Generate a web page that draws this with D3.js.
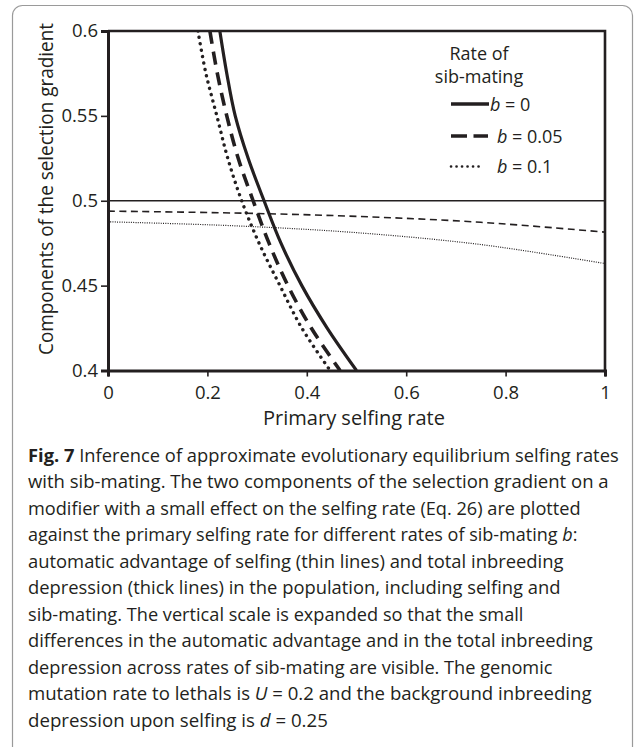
<!doctype html>
<html lang="en">
<head>
<meta charset="utf-8">
<script src="https://d3js.org/d3.v7.min.js"></script>
<style>
  body { margin: 0; background: #fff; }
  text { font-family: "Open Sans", sans-serif; fill: #231f20; }
</style>
</head>
<body>
<svg width="636" height="747"></svg>
<script>
// ticks
var xTicks = [0, 0.2, 0.4, 0.6, 0.8, 1];
var yTicks = [0.4, 0.45, 0.5, 0.55, 0.6];
var sibRates = ["0", "0.05", "0.1"];

// thick lines: total inbreeding depression, selfing rate read at these levels
var depressionLevels = [0.6, 0.575, 0.55, 0.525, 0.5, 0.475, 0.45, 0.425, 0.4];
var depressionB0   = [0.225, 0.239, 0.256, 0.282, 0.314, 0.348, 0.390, 0.441, 0.500];
var depressionB005 = [0.205, 0.220, 0.239, 0.262, 0.292, 0.324, 0.362, 0.409, 0.467];
var depressionB01  = [0.181, 0.197, 0.219, 0.241, 0.269, 0.304, 0.346, 0.390, 0.447];

// thin lines: automatic advantage of selfing
var advantageRates = [0, 0.25, 0.5, 0.75, 1];
var advantageB0   = [0.5, 0.5, 0.5, 0.5, 0.5];
var advantageB005 = [0.4939, 0.4928, 0.4908, 0.4873, 0.4815];
var advantageB01  = [0.4876, 0.4853, 0.4812, 0.4742, 0.4630];

var caption = [
  [["b", "Fig. 7"], ["", " Inference of approximate evolutionary equilibrium selfing rates"]],
  [["", "with sib-mating. The two components of the selection gradient on a"]],
  [["", "modifier with a small effect on the selfing rate (Eq. 26) are plotted"]],
  [["", "against the primary selfing rate for different rates of sib-mating "], ["i", "b"], ["", ":"]],
  [["", "automatic advantage of selfing (thin lines) and total inbreeding"]],
  [["", "depression (thick lines) in the population, including selfing and"]],
  [["", "sib-mating. The vertical scale is expanded so that the small"]],
  [["", "differences in the automatic advantage and in the total inbreeding"]],
  [["", "depression across rates of sib-mating are visible. The genomic"]],
  [["", "mutation rate to lethals is "], ["i", "U"], ["", " = 0.2 and the background inbreeding"]],
  [["", "depression upon selfing is "], ["i", "d"], ["", " = 0.25"]]
];
var captionWidths = [591, 581, 553, 550, 536, 533, 496, 565, 525, 564, 300];

var ink = "#231f20";
var svg = d3.select("svg");

// figure frame
svg.append("rect")
  .attr("x", 12.5).attr("y", 5.5)
  .attr("width", 620).attr("height", 760)
  .attr("rx", 10)
  .attr("fill", "none")
  .attr("stroke", "#9a9a9a")
  .attr("stroke-width", 1.2);

var x = d3.scaleLinear().domain([0, 1]).range([108, 605]);
var y = d3.scaleLinear().domain([0.4, 0.6]).range([370.5, 31]);

svg.append("clipPath").attr("id", "plotclip")
  .append("rect")
  .attr("x", x(0)).attr("y", y(0.6))
  .attr("width", x(1) - x(0)).attr("height", y(0.4) - y(0.6));

var plot = svg.append("g").attr("clip-path", "url(#plotclip)");

var line = d3.line()
  .x(function(d) { return x(d[0]); })
  .y(function(d) { return y(d[1]); })
  .curve(d3.curveCatmullRom);

var styles = [
  { dash: null, thick: 3.2, thin: 1.6, thinDash: null, cap: "butt" },
  { dash: "13,8", thick: 3.6, thin: 1.6, thinDash: "7,4.5", cap: "butt" },
  { dash: "0.1,6.4", thick: 3.4, thin: 1.2, thinDash: "1,1.3", cap: "round" }
];

var advantage = [advantageB0, advantageB005, advantageB01];
var depression = [depressionB0, depressionB005, depressionB01];

advantage.forEach(function(vals, i) {
  plot.append("path")
    .datum(advantageRates.map(function(r, j) { return [r, vals[j]]; }))
    .attr("d", line)
    .attr("fill", "none")
    .attr("stroke", ink)
    .attr("stroke-width", styles[i].thin)
    .attr("stroke-dasharray", styles[i].thinDash);
});

depression.forEach(function(vals, i) {
  plot.append("path")
    .datum(depressionLevels.map(function(lv, j) { return [vals[j], lv]; }))
    .attr("d", line)
    .attr("fill", "none")
    .attr("stroke", ink)
    .attr("stroke-width", styles[i].thick)
    .attr("stroke-linecap", styles[i].cap)
    .attr("stroke-dasharray", styles[i].dash);
});

// axes
var yAxis = svg.append("g")
  .attr("transform", "translate(" + x(0) + ",0)")
  .call(d3.axisLeft(y).tickValues(yTicks).tickSize(7).tickPadding(3)
    .tickFormat(function(d) { return String(d); }));
var xAxis = svg.append("g")
  .attr("transform", "translate(0," + y(0.4) + ")")
  .call(d3.axisBottom(x).tickValues(xTicks).tickSize(6).tickPadding(9)
    .tickFormat(function(d) { return String(d); }));

[xAxis, yAxis].forEach(function(a) {
  a.select(".domain").attr("stroke", ink).attr("stroke-width", 3);
  a.selectAll(".tick line").attr("stroke", ink).attr("stroke-width", 1.6);
  a.selectAll(".tick text")
    .attr("fill", ink)
    .style("font-family", '"Open Sans", sans-serif')
    .style("font-size", "18.5px");
});

// top and right frame of the plot area
svg.append("path")
  .attr("d", "M" + x(0) + "," + y(0.6) + "H" + x(1) + "V" + y(0.4))
  .attr("fill", "none")
  .attr("stroke", ink)
  .attr("stroke-width", 2.6);

// axis titles
var xTitle = svg.append("text")
  .attr("text-anchor", "middle")
  .style("font-size", "20.5px")
  .text("Primary selfing rate");

var yTitle = svg.append("text")
  .attr("text-anchor", "middle")
  .style("font-size", "20.5px")
  .text("Components of the selection gradient");

// legend
var legend = svg.append("g");
legend.append("text").attr("x", 479).attr("y", 60)
  .attr("text-anchor", "middle").style("font-size", "18px").text("Rate of");
legend.append("text").attr("x", 479).attr("y", 83)
  .attr("text-anchor", "middle").style("font-size", "18px").text("sib-mating");

var legendY = [104, 136, 166.5];
var legendTextX = [490, 497, 497];
var legendLineEnd = [489, 488, 479];
sibRates.forEach(function(b, i) {
  legend.append("line")
    .attr("x1", 451).attr("x2", legendLineEnd[i])
    .attr("y1", legendY[i]).attr("y2", legendY[i])
    .attr("stroke", ink)
    .attr("stroke-width", i === 2 ? 2.6 : 3.4)
    .attr("stroke-linecap", styles[i].cap)
    .attr("stroke-dasharray", i === 1 ? "16,6.5" : (i === 2 ? "0.1,5.4" : null));
  var t = legend.append("text")
    .attr("x", legendTextX[i]).attr("y", legendY[i] + 6.5)
    .style("font-size", "18px");
  t.append("tspan").style("font-style", "italic").text("b");
  t.append("tspan").text(" = " + b);
});

// caption
var capG = svg.append("g");
caption.forEach(function(parts, i) {
  var t = capG.append("text")
    .attr("x", 0).attr("y", 0)
    .style("font-size", "18.5px");
  parts.forEach(function(p) {
    var s = t.append("tspan").text(p[1]);
    if (p[0] === "b") s.style("font-weight", "bold");
    if (p[0] === "i") s.style("font-style", "italic");
  });
  var w = t.node().getComputedTextLength();
  t.attr("transform", "translate(28," + (461.7 + 26.5 * i) + ") scale(" + (captionWidths[i] / w) + ",1)");
});

// fit axis titles to the measured widths
function fitWidth(sel, width, base) {
  var w = sel.node().getComputedTextLength();
  sel.attr("transform", base + " scale(" + (width / w) + ",1)");
}
fitWidth(yTitle, 332, "translate(53,189) rotate(-90)");
fitWidth(xTitle, 182, "translate(354,425)");
</script>
</body>
</html>
